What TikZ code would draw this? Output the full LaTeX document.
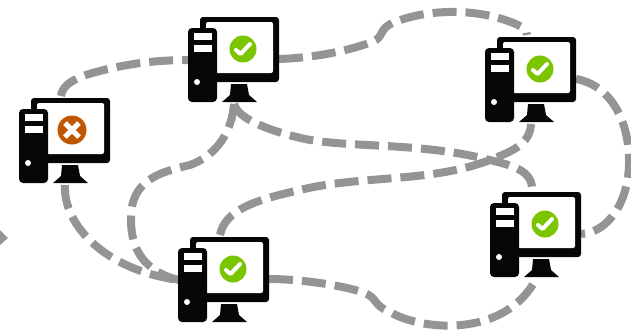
\documentclass[tikz,border=0pt]{standalone}
\usetikzlibrary{backgrounds}

\definecolor{linkgray}{HTML}{949494}
\definecolor{pcblack}{HTML}{060606}
\definecolor{okgreen}{HTML}{7AC400}
\definecolor{failorange}{HTML}{C05600}

\newcommand{\pcbody}{%
  % Monitor
  \fill[pcblack, rounded corners=3pt] (0,0) rectangle (79,65);
  \fill[white, rounded corners=2pt] (6,5) rectangle (73,56);
  % Stand
  \fill[pcblack] (31,67) -- (47,67) -- (49,78) -- (57,85) -- (22,85) -- (30,78) -- cycle;
  % Tower
  \fill[pcblack, rounded corners=4pt] (-12,11) rectangle (17,85);
  \fill[white] (-6,16) rectangle (12,23);
  \fill[white] (-6,28) rectangle (12,35);
  \fill[white] (-3,65) circle (3);
  % Ends of the links
  \coordinate (-top) at (30,-2);
  \coordinate (-base) at (34,87);
  \coordinate (-left) at (-11,43);
  \coordinate (-right) at (79,42);
}

\tikzset{
  pics/pcok/.style={code={
    \pcbody
    \fill[okgreen] (43,32) circle (13.5);
    \draw[white, line width=4pt, line cap=round, line join=round] (36,33) -- (40.5,37) -- (50,27);
  }},
  pics/pcfail/.style={code={
    \pcbody
    \fill[failorange] (41,32) circle (14.5);
    \draw[white, line width=5pt] (34,25) -- (48,39) (48,25) -- (34,39);
  }}
}

\begin{document}
\begin{tikzpicture}[x=1pt, y=-1pt,
    link/.style={linkgray, line width=8pt, dash pattern=on 24pt off 9pt}]
  \useasboundingbox (0,0) rectangle (631,333);

  % Computers
  \pic (pcA) at (31,98) {pcfail};
  \pic (pcB) at (200,17) {pcok};
  \pic (pcC) at (497,37) {pcok};
  \pic (pcD) at (502,192) {pcok};
  \pic (pcE) at (190,237) {pcok};

  % Links
  \begin{scope}[on background layer]
    \draw[link] (pcA-top) .. controls (62,85) and (75,77) .. (100,71) .. controls (130,63) and (160,60) .. (pcB-left);
    \draw[link] (pcB-right) .. controls (310,58) and (345,52) .. (372,42) .. controls (385,37) and (378,28) .. (395,22) .. controls (425,10) and (470,8) .. (505,20) .. controls (517,24) and (527,28) .. (pcC-top);
    \draw[link] (pcB-base) .. controls (232,130) and (218,155) .. (190,165) .. controls (160,172) and (130,180) .. (131,220) .. controls (131,250) and (145,272) .. (pcE-left);
    \draw[link] (pcB-base) .. controls (238,118) and (265,130) .. (305,139) .. controls (350,148) and (420,142) .. (490,160) .. controls (510,165) and (533,170) .. (pcD-top);
    \draw[link] (pcE-top) .. controls (225,210) and (255,200) .. (300,190) .. controls (360,175) and (430,183) .. (490,160) .. controls (510,152) and (530,145) .. (pcC-base);
    \draw[link] (pcC-right) .. controls (610,85) and (630,120) .. (629,165) .. controls (628,200) and (610,232) .. (pcD-right);
    \draw[link] (pcA-base) .. controls (63,225) and (105,270) .. (pcE-left);
    \draw[link] (pcE-right) .. controls (300,279) and (340,285) .. (362,292) .. controls (378,297) and (372,305) .. (390,312) .. controls (422,331) and (505,338) .. (pcD-base);
  \end{scope}

  % Cut off mark on the left edge
  \fill[linkgray] (0,230) -- (8,238) -- (0,245) -- cycle;
\end{tikzpicture}
\end{document}
